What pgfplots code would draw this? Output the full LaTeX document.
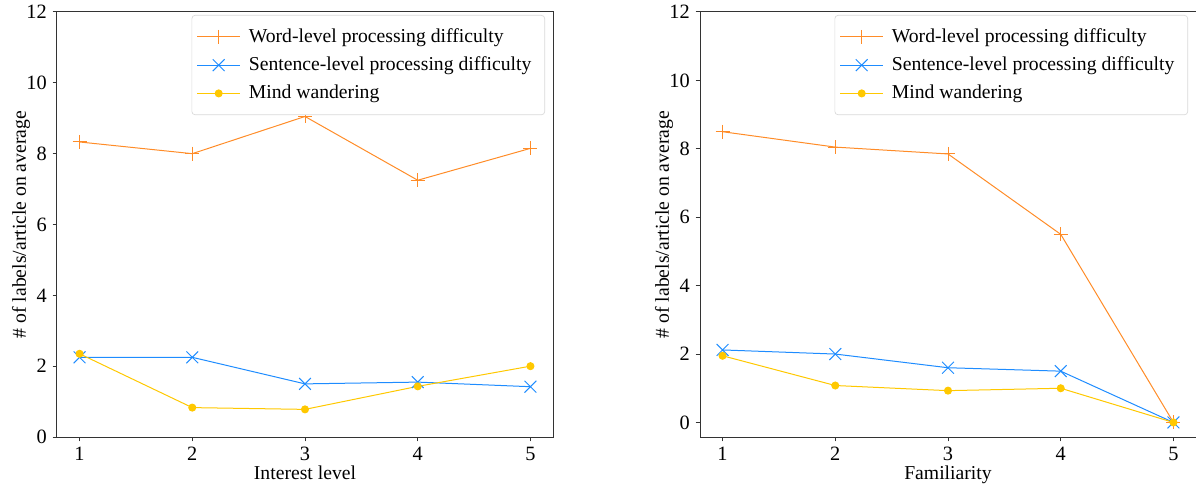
\documentclass[border=0pt]{standalone}
\usepackage{fontspec}
\setmainfont{Liberation Serif}
\usepackage{pgfplots}
\pgfplotsset{compat=1.18}

\definecolor{cword}{RGB}{255,140,40}
\definecolor{csent}{RGB}{30,140,255}
\definecolor{cmind}{RGB}{255,200,0}

\pgfplotsset{
  panel/.style={
    width=297.6pt, height=255pt, scale only axis,
    xmin=0.8, xmax=5.2, ymax=12,
    xtick={1,2,3,4,5}, ytick={0,2,4,6,8,10,12},
    tick align=outside, tick pos=left,
    major tick length=2.6pt,
    axis line style={black!80, line width=0.6pt},
    tick style={black!80, line width=0.6pt},
    ticklabel style={font=\fontsize{12.2}{13}\selectfont},
    label style={font=\fontsize{11.8}{13}\selectfont},
    /pgf/number format/assume math mode=true,
    xticklabel={\pgfmathprintnumber[assume math mode=true]{\tick}},
    yticklabel={\pgfmathprintnumber[assume math mode=true]{\tick}},
    ylabel={\# of labels/article on average},
    ylabel style={yshift=-9pt},
    xlabel style={yshift=4pt},
    legend cell align=left,
    legend style={at={(0.984,0.993)}, anchor=north east,
      draw=black!15, rounded corners=2pt, fill=white,
      font=\fontsize{11.8}{13}\selectfont,
      row sep=3.2pt, inner xsep=3pt, inner ysep=6pt,
      nodes={inner xsep=5pt}},
    legend image code/.code={
      \draw[mark repeat=2,mark phase=2,#1] plot coordinates {(0cm,0cm)(0.45cm,0cm)(0.9cm,0cm)};},
  },
  wordl/.style={color=cword, line width=0.6pt, mark=+, mark size=4.2pt},
  sentl/.style={color=csent, line width=0.6pt, mark=x, mark size=5pt},
  mindl/.style={color=cmind, line width=0.6pt, mark=*, mark size=2.1pt},
}

\begin{document}
\begin{tikzpicture}
\useasboundingbox (-34.2pt,-30pt) rectangle (683.4pt,262.2pt);
\begin{axis}[panel, ymin=0, at={(0pt,0pt)}, xlabel={Interest level}]
\addplot[wordl] coordinates {(1,8.33) (2,8.0) (3,9.05) (4,7.25) (5,8.15)};
\addplot[sentl] coordinates {(1,2.25) (2,2.25) (3,1.5) (4,1.55) (5,1.42)};
\addplot[mindl] coordinates {(1,2.35) (2,0.83) (3,0.78) (4,1.43) (5,2.0)};
\legend{Word-level processing difficulty, Sentence-level processing difficulty, Mind wandering}
\end{axis}
\begin{axis}[panel, ymin=-0.425, at={(385.8pt,0pt)}, xlabel={Familiarity}]
\addplot[wordl] coordinates {(1,8.5) (2,8.05) (3,7.85) (4,5.5) (5,0)};
\addplot[sentl] coordinates {(1,2.12) (2,2.0) (3,1.6) (4,1.5) (5,0)};
\addplot[mindl] coordinates {(1,1.95) (2,1.08) (3,0.93) (4,1.0) (5,0)};
\legend{Word-level processing difficulty, Sentence-level processing difficulty, Mind wandering}
\end{axis}
\end{tikzpicture}
\end{document}
